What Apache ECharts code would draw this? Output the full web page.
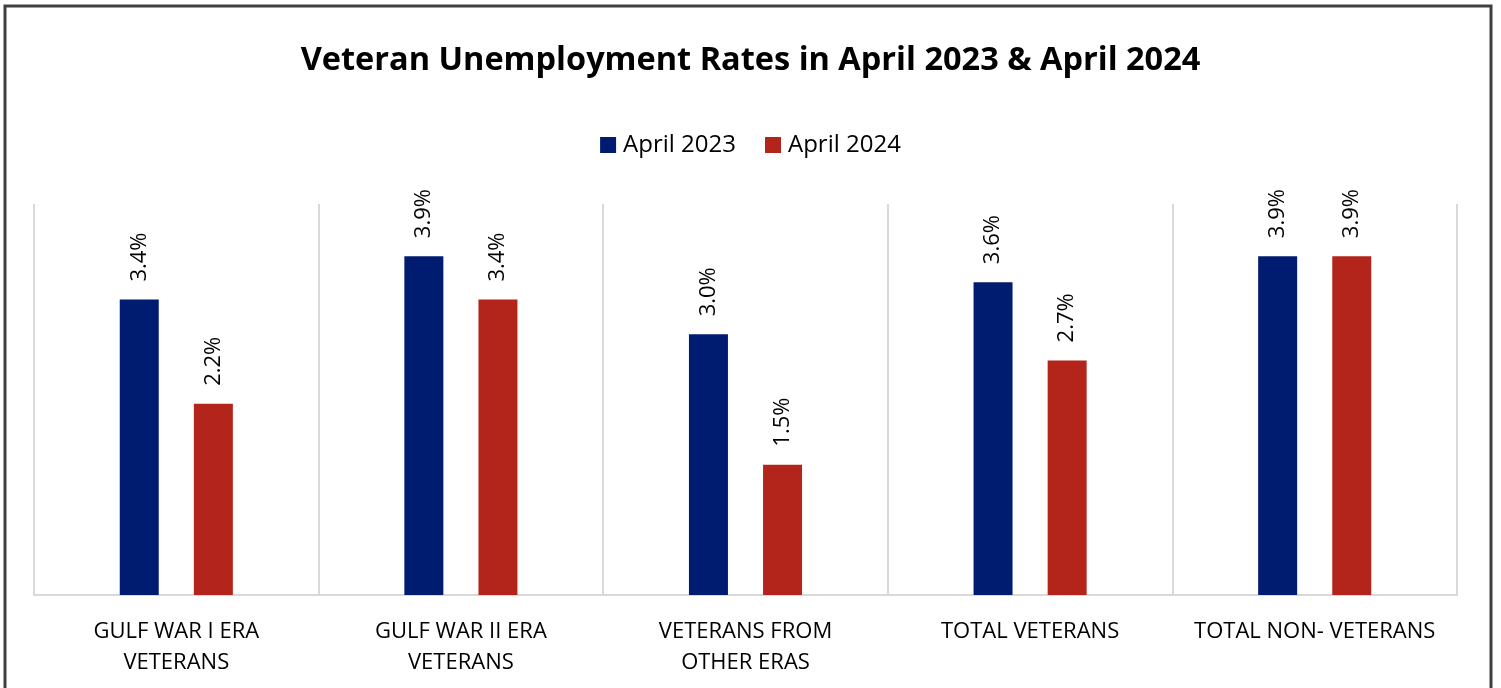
<!DOCTYPE html>
<html><head><meta charset="utf-8">
<script src="https://cdn.jsdelivr.net/npm/echarts@6/dist/echarts.min.js"></script>
<style>html,body{margin:0;padding:0;background:#fff}#c{width:1501px;height:688px}</style>
</head><body><div id="c"></div>
<script>
const categories = ['GULF WAR I ERA\nVETERANS','GULF WAR II ERA\nVETERANS','VETERANS FROM\nOTHER ERAS','TOTAL VETERANS','TOTAL NON- VETERANS'];
const april2023 = [3.4, 3.9, 3.0, 3.6, 3.9];
const april2024 = [2.2, 3.4, 1.5, 2.7, 3.9];
const seriesNames = ['April 2023', 'April 2024'];
const FONT = 'Open Sans';
const chart = echarts.init(document.getElementById('c'));
const lbl = {
  show: true, position: 'top', distance: 18, rotate: 90, align: 'left', verticalAlign: 'middle',
  fontFamily: FONT, fontSize: 22, color: '#000',
  formatter: p => p.value.toFixed(1) + '%'
};
chart.setOption({
  animation: false,
  title: { text: 'Veteran Unemployment Rates in April 2023 & April 2024', left: 'center', top: 39,
    textStyle: { fontFamily: FONT, fontWeight: 'bold', fontSize: 32.5, color: '#000' } },
  legend: { top: 128, left: 'center', itemWidth: 16, itemHeight: 16, itemGap: 29,
    icon: 'rect', textStyle: { fontFamily: FONT, fontSize: 24, color: '#000', padding: [0, 0, 0, 2] }, data: seriesNames },
  grid: { left: 34, right: 44, top: 204, bottom: 93, containLabel: false },
  graphic: [{ type: 'rect', shape: { x: 5, y: 6, width: 1486, height: 700 },
    style: { fill: 'none', stroke: '#404040', lineWidth: 3 }, silent: true }],
  xAxis: { type: 'category', data: categories,
    axisLine: { lineStyle: { color: '#d9d9d9', width: 2 } },
    axisTick: { show: false },
    splitLine: { show: true, lineStyle: { color: '#d9d9d9', width: 2 } },
    axisLabel: { fontFamily: FONT, fontSize: 22, color: '#000', margin: 21, lineHeight: 31, interval: 0 } },
  yAxis: { type: 'value', min: 0, max: 4.5, show: false, splitLine: { show: false } },
  series: [
    { name: seriesNames[0], type: 'bar', data: april2023, barWidth: 39, barGap: '90%',
      itemStyle: { color: '#001c71' }, label: lbl },
    { name: seriesNames[1], type: 'bar', data: april2024, barWidth: 39, barGap: '90%',
      itemStyle: { color: '#b3241b' }, label: lbl }
  ]
});
</script></body></html>
